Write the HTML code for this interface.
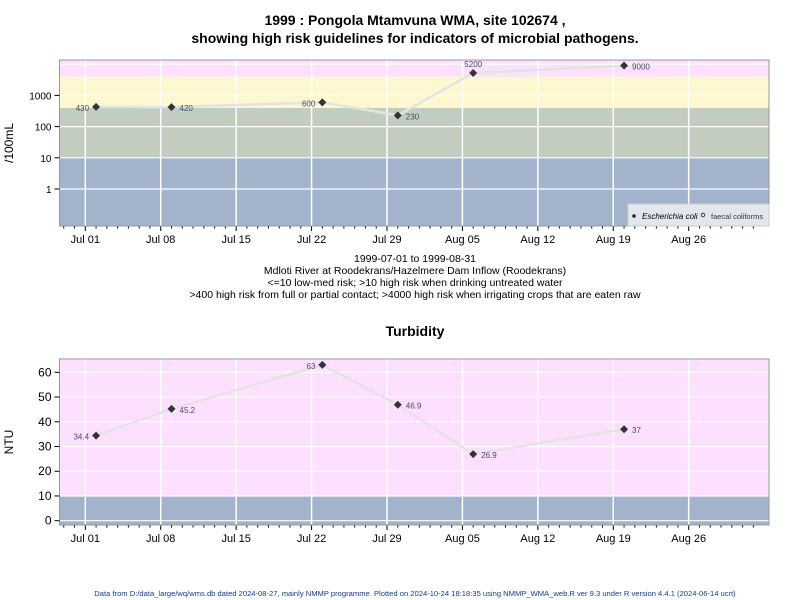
<!DOCTYPE html>
<html><head><meta charset="utf-8"><style>
body{margin:0;background:#fff;}
svg{display:block;font-family:"Liberation Sans",Arial,sans-serif;}
</style></head><body>
<svg id="chart" width="800" height="600" viewBox="0 0 800 600">
<text x="415" y="25" text-anchor="middle" font-size="14" font-weight="bold">1999 : Pongola Mtamvuna WMA, site 102674 ,</text>
<text x="415" y="43" text-anchor="middle" font-size="14" font-weight="bold">showing high risk guidelines for indicators of microbial pathogens.</text>
<g font-size="10.5" text-anchor="middle">
<text x="415" y="262">1999-07-01 to 1999-08-31</text>
<text x="415" y="274">Mdloti River at Roodekrans/Hazelmere Dam Inflow (Roodekrans)</text>
<text x="415" y="286">&lt;=10 low-med risk; &gt;10 high risk when drinking untreated water</text>
<text x="415" y="298">&gt;400 high risk from full or partial contact; &gt;4000 high risk when irrigating crops that are eaten raw</text>
</g>
<text x="415" y="336" text-anchor="middle" font-size="14" font-weight="bold">Turbidity</text>
<text x="415" y="596" text-anchor="middle" font-size="7.6" fill="#1a3a8a">Data from D:/data_large/wq/wms.db dated 2024-08-27, mainly NMMP programme. Plotted on 2024-10-24 18:18:35 using NMMP_WMA_web.R ver 9.3 under R version 4.4.1 (2024-06-14 ucrt)</text>
<g id="top"></g>
<g id="bot"></g>
</svg>
<script>
const ecoliDays=[1,8,22,29,36,50];
const ecoliVals=[430,420,600,230,5200,9000];
const ecoliLabelSide=['left','right','left','right','top','right'];
const ntuDays=[1,8,22,29,36,50];
const ntuVals=[34.4,45.2,63,46.9,26.9,37];
const ntuLabels=['34.4','45.2','63','46.9','26.9','37'];
const ntuLabelSide=['left','right','left','right','right','right'];
const xTickLabels=['Jul 01','Jul 08','Jul 15','Jul 22','Jul 29','Aug 05','Aug 12','Aug 19','Aug 26'];
const logTicks=[1,10,100,1000];
const ntuTicks=[0,10,20,30,40,50,60];

const NS='http://www.w3.org/2000/svg';
const X0=59.5,X1=769;
function xs(d){return 85.3+d*10.775;}
function mk(p,tag,at){const e=document.createElementNS(NS,tag);for(const k in at)e.setAttribute(k,at[k]);p.appendChild(e);return e;}

function panel(g,T,B,ys,bands,hgrid,yTicks,yTickLabel,yTitle,days,vals,labels,sides,legend){
  for(const b of bands){
    const y1=Math.max(T,ys(b[1])),y2=Math.min(B,ys(b[0]));
    const r=mk(g,'rect',{x:X0,y:y1,width:X1-X0,height:y2-y1,fill:b[2]});
    
    
  }
  for(const v of hgrid){const y=ys(v);if(y<T||y>B)continue;
    const l=mk(g,'line',{x1:X0,x2:X1,y1:y,y2:y,stroke:'#fff','stroke-width':1.2});
    
    }
  xTickLabels.forEach((t,i)=>{const x=xs(i*7);
    const l=mk(g,'line',{x1:x,x2:x,y1:T,y2:B,stroke:'#fff','stroke-width':1.5});
    
    
    mk(g,'line',{x1:x,x2:x,y1:B,y2:B+5,stroke:'#000'});
    const tx=mk(g,'text',{x:x,y:B+17,'text-anchor':'middle','font-size':11});
    tx.textContent=t;
    
    });
  for(let d=-2;d<=63;d++){if(d%7===0)continue;const x=xs(d);mk(g,'line',{x1:x,x2:x,y1:B,y2:B+2.5,stroke:'#000'});}
  const fr=mk(g,'rect',{x:X0,y:T,width:X1-X0,height:B-T,fill:'none',stroke:'#999'});
  
  
  yTicks.forEach(v=>{const y=ys(v);mk(g,'line',{x1:X0-5,x2:X0,y1:y,y2:y,stroke:'#000'});
    const t=mk(g,'text',{x:X0-8,y:y+4,'text-anchor':'end','font-size':yTickLabel.size});
    t.textContent=yTickLabel.fmt(v);
    
    });
  const yt=mk(g,'text',{x:0,y:0,transform:`translate(${yTitle.x},${(T+B)/2}) rotate(-90)`,'text-anchor':'middle','font-size':12});
  yt.textContent=yTitle.t;
  
  
  const pts=days.map((d,i)=>xs(d)+','+ys(vals[i])).join(' ');
  const pl=mk(g,'polyline',{points:pts,fill:'none',stroke:'#e3e3e3','stroke-width':2.5});
  
  
  days.forEach((d,i)=>{const x=xs(d),y=ys(vals[i]);
    const p=mk(g,'path',{d:`M${x} ${y-4}L${x+4} ${y}L${x} ${y+4}L${x-4} ${y}Z`,fill:'#333'});
    
    
    const s=sides[i];let at={x:x+8,y:y+4,'text-anchor':'start'};
    if(s==='left')at={x:x-7,y:y+4,'text-anchor':'end'};
    if(s==='top')at={x:x,y:y-6,'text-anchor':'middle'};
    at['font-size']=8;at.fill='#4a4a6a';
    const t=mk(g,'text',at);t.textContent=labels[i];
    
    });
  if(legend){
    const lg=mk(g,'g',{});
    
    
    mk(lg,'rect',{x:628,y:204,width:141,height:22,fill:'#e2e6ed',stroke:'#ccc'});
    mk(lg,'circle',{cx:634,cy:216,r:1.8,fill:'#222'});
    const a=mk(lg,'text',{x:642,y:219,'font-size':8,'font-style':'italic'});a.textContent='Escherichia coli';
    
    
    mk(lg,'circle',{cx:703,cy:215,r:1.8,fill:'none',stroke:'#222','stroke-width':0.8});
    const b=mk(lg,'text',{x:711,y:219,'font-size':7.5,fill:'#333'});b.textContent='faecal coliforms';
    
    
  }
}
const lys=v=>189-31.2*Math.log10(v);
panel(document.getElementById('top'),60,226,lys,
  [[0.01,10,'#a2b3cb'],[10,400,'#c2cdc0'],[400,4000,'#fdf8cf'],[4000,1e6,'#fde0fd']],
  [1,10,100,1000,10000],logTicks,{size:10,fmt:v=>String(v)},{x:13,t:'/100mL'},
  ecoliDays,ecoliVals,ecoliVals.map(String),ecoliLabelSide,true);
const nys=v=>520.7-2.473*v;
panel(document.getElementById('bot'),359,525,nys,
  [[-10,10,'#a2b3cb'],[10,100,'#fde0fd']],
  ntuTicks,ntuTicks,{size:12,fmt:v=>String(v)},{x:13,t:'NTU'},
  ntuDays,ntuVals,ntuLabels,ntuLabelSide,false);
</script>
</body></html>
